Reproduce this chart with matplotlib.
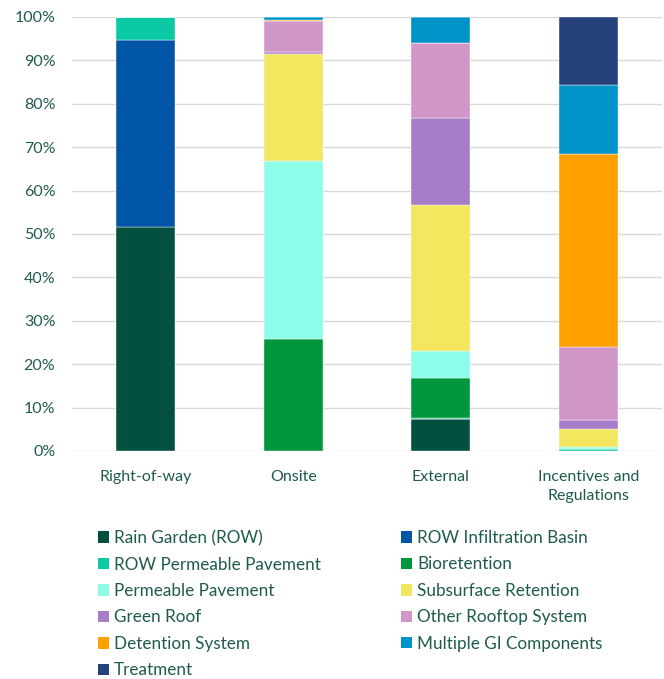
import numpy as np
import matplotlib.pyplot as plt
from matplotlib.patches import Patch
from matplotlib.ticker import PercentFormatter

plt.rcParams['font.family'] = ['Lato', 'DejaVu Sans']

categories = ['Right-of-way', 'Onsite', 'External', 'Incentives and\nRegulations']

# share of each component per category (%)
rain_garden_row = [51.6, 0.0, 7.3, 0.0]
row_infiltration = [43.1, 0.0, 0.0, 0.0]
row_permeable = [5.3, 0.0, 0.4, 0.4]
bioretention = [0.0, 25.8, 9.2, 0.0]
permeable_pavement = [0.0, 41.0, 6.1, 0.45]
subsurface_retention = [0.0, 24.6, 33.7, 4.15]
green_roof = [0.0, 0.5, 20.0, 2.1]
other_rooftop = [0.0, 7.2, 17.3, 16.8]
detention = [0.0, 0.3, 0.0, 44.5]
multiple_gi = [0.0, 0.6, 6.0, 15.9]
treatment = [0.0, 0.0, 0.0, 15.7]

series = [
    ('Rain Garden (ROW)', rain_garden_row, '#03503F'),
    ('ROW Infiltration Basin', row_infiltration, '#0055A6'),
    ('ROW Permeable Pavement', row_permeable, '#0BC9A4'),
    ('Bioretention', bioretention, '#00963B'),
    ('Permeable Pavement', permeable_pavement, '#8DFDE9'),
    ('Subsurface Retention', subsurface_retention, '#F2E75F'),
    ('Green Roof', green_roof, '#A77CC9'),
    ('Other Rooftop System', other_rooftop, '#D197C8'),
    ('Detention System', detention, '#FFA000'),
    ('Multiple GI Components', multiple_gi, '#0093C8'),
    ('Treatment', treatment, '#26427A'),
]

text_color = '#1F5B4C'

fig = plt.figure(figsize=(6.64, 6.79), dpi=100)
ax = fig.add_axes([0.1084, 0.3358, 0.8886, 0.6392])

x = np.arange(len(categories))
bottom = np.zeros(len(categories))
handles = []
for label, vals, color in series:
    vals = np.array(vals)
    ax.bar(x, vals, bottom=bottom, width=0.4, color=color, edgecolor='white', linewidth=0.3)
    bottom += vals
    handles.append(Patch(facecolor=color, label=label))

ax.set_xlim(-0.5, len(categories) - 0.5)
ax.set_ylim(0, 100)
ax.set_yticks(np.arange(0, 101, 10))
ax.yaxis.set_major_formatter(PercentFormatter(decimals=0))
ax.set_xticks(x)
ax.set_xticklabels(categories, linespacing=1.37)
ax.tick_params(axis='both', length=0, labelsize=11.5, colors=text_color)
ax.tick_params(axis='y', pad=12)
ax.tick_params(axis='x', pad=14)
ax.grid(axis='y', color='#D9D9D9', linewidth=1)
ax.set_axisbelow(True)
for s in ax.spines.values():
    s.set_visible(False)

# legend filled row by row like the original: two columns as two legends
leg_kw = dict(loc='upper left', frameon=False, fontsize=12.3, handlelength=0.65,
              handleheight=0.65, handletextpad=0.3, labelspacing=0.61,
              borderaxespad=0, borderpad=0)
left_col = [handles[i] for i in range(0, len(handles), 2)]
right_col = [handles[i] for i in range(1, len(handles), 2)]
for col, xpos in [(left_col, 98 / 664), (right_col, 401 / 664)]:
    leg = fig.legend(handles=col, bbox_to_anchor=(xpos, 1 - 530 / 679), **leg_kw)
    for t in leg.get_texts():
        t.set_color(text_color)

fig.savefig('out.png', dpi=100)
